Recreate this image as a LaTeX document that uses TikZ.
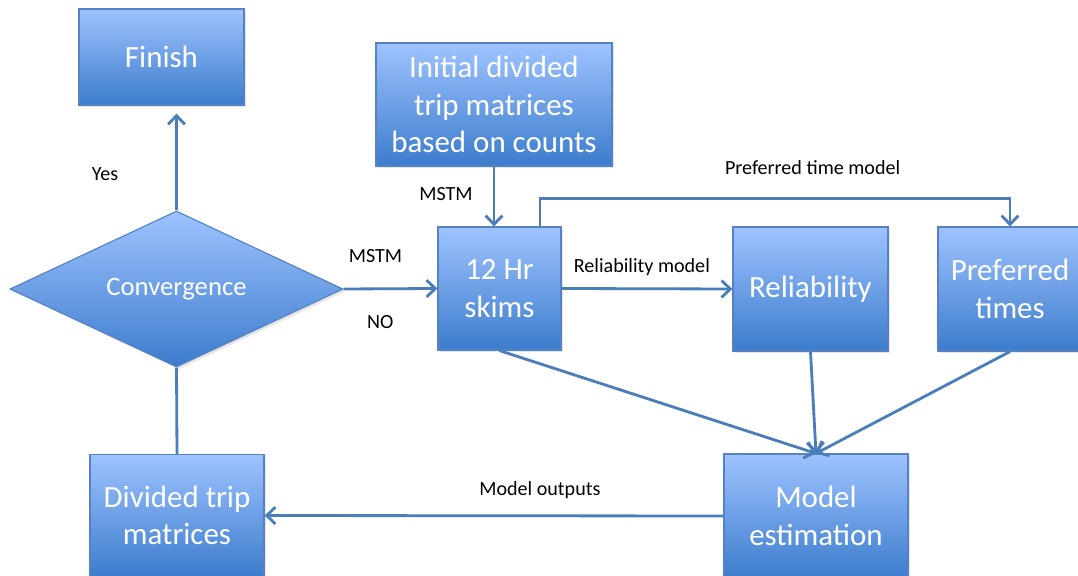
\documentclass[tikz,border=0pt]{standalone}
\usepackage{fontspec}
\setmainfont{Carlito}
\usetikzlibrary{shapes.geometric,arrows.meta,shadows}
\definecolor{linkblue}{RGB}{74,126,187}
\definecolor{flowtop}{RGB}{158,195,255}
\definecolor{flowbottom}{RGB}{60,124,204}
\definecolor{flowedge}{RGB}{84,130,196}
\tikzset{
  flowbox/.style={rectangle, draw=flowedge, line width=0.8pt, top color=flowtop, bottom color=flowbottom,
    text=white, align=center, font=\fontsize{22}{26.5}\selectfont, inner sep=0pt,
    drop shadow={opacity=0.2, shadow xshift=0.6mm, shadow yshift=-0.6mm}},
  flowlabel/.style={font=\fontsize{14.3}{17}\selectfont, text=black},
  link/.style={draw=linkblue, line width=2pt},
}
\begin{document}
\begin{tikzpicture}[x=0.025cm, y=-0.025cm, >={Straight Barb[length=2.2mm,width=4.2mm]}]
\clip (0,0) rectangle (1078,576);
\node[flowbox, minimum width=4.125cm, minimum height=2.4cm](finish) at (161.5,57) {Finish};
\node[flowbox, diamond, aspect=3, minimum width=8.325cm, minimum height=3.9cm, font=\fontsize{19}{23}\selectfont](conv) at (176.5,289) {Convergence};
\node[flowbox, minimum width=5.9cm, minimum height=3.075cm](init) at (494,104.5) {Initial divided\\trip matrices\\based on counts};
\node[flowbox, minimum width=3.075cm, minimum height=3.075cm](skims) at (499.5,288.5) {12 Hr\\skims};
\node[flowbox, minimum width=3.875cm, minimum height=3.1cm](rel) at (810.5,289) {Reliability};
\node[flowbox, minimum width=3.6cm, minimum height=3.1cm](pref) at (1010,289) {Preferred\\times};
\node[flowbox, minimum width=4.6cm, minimum height=3.1cm](est) at (816,516) {Model\\estimation};
\node[flowbox, minimum width=4.35cm, minimum height=3.05cm](divided) at (177,515.5) {Divided trip\\matrices};
\node[flowlabel](yes) at (105,174) {Yes};
%
\draw[link,->,shorten >=0.2cm](conv.north) -- (conv.north |- finish.south);
\draw[link,->](conv.east) -- (skims.west) node[flowlabel, pos=0.34, yshift=0.82cm]{MSTM} node[flowlabel, pos=0.39, yshift=-0.82cm]{NO};
\draw[link,->](init.south) -- (init.south |- skims.north) node[flowlabel, pos=0.46, xshift=-1.2cm]{MSTM};
\draw[link,->]([xshift=1.0125cm]skims.north) |- node[flowlabel, pos=0.79, yshift=0.78cm]{Preferred time model} ([yshift=0.7cm]pref.north) -- (pref.north);
\draw[link,->](skims.east) -- (rel.west) node[flowlabel, pos=0.47, yshift=0.55cm]{Reliability model};
%
\draw[link,->](skims.south) -- (est.north);
\draw[link,->](rel.south) -- (est.north);
\draw[link,->](pref.south) -- (est.north);
\draw[link,->](est.west) -- (divided.east) node[flowlabel, pos=0.4, yshift=0.65cm]{Model outputs};
\draw[link](divided.north) -- (conv.south);
\end{tikzpicture}
\end{document}
